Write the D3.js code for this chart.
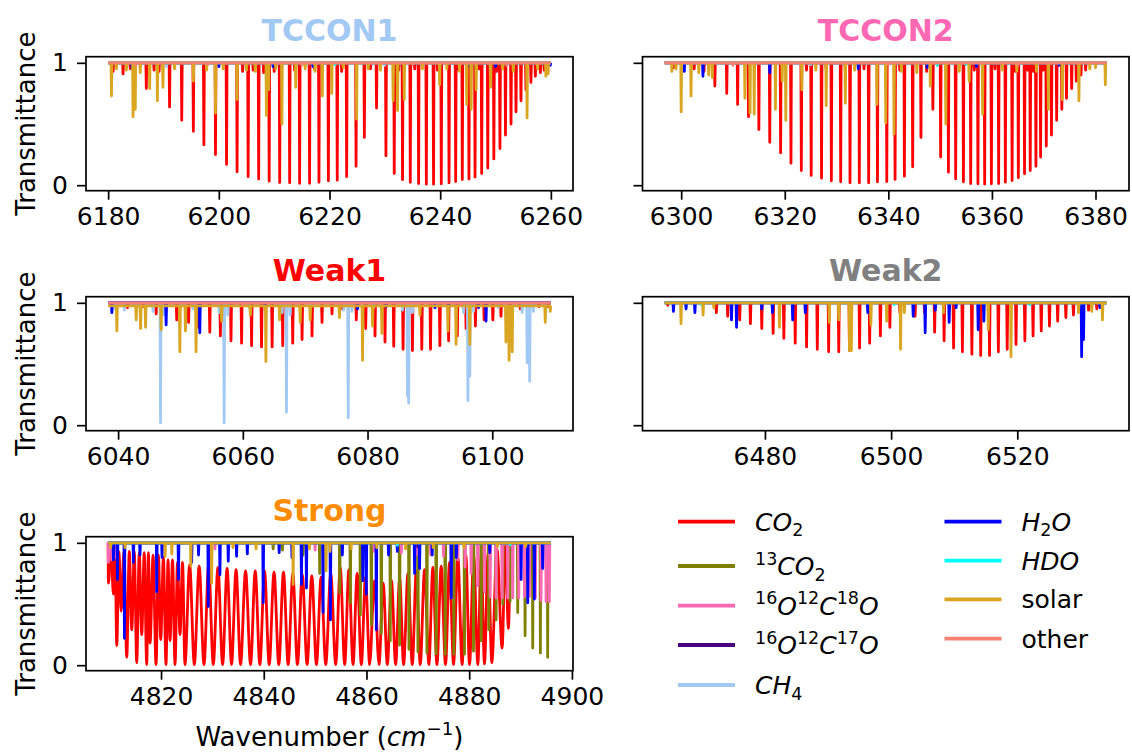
<!DOCTYPE html>
<meta charset="utf-8">
<script src="https://d3js.org/d3.v7.min.js"></script>
<style>
  body { margin: 0; background: #fff; }
  text { font-family: "DejaVu Sans", sans-serif; }
</style>
<div id="my_dataviz"></div>
<script>

// ---------- data (wavenumber cm-1, transmittance at line minimum) ----------

var panelNames = ["TCCON1", "TCCON2", "Weak1", "Weak2", "Strong"];
var panelTitleColors = ["#a1c9f4", "#ff69b4", "#ff0000", "#808080", "#ff8c00"];
var panelRanges = [[6180, 6260], [6296.8, 6382.2], [6038.4, 6109.4], [6464.1, 6534.2], [4809.7, 4895.9]];
var panelTicks = [
  [6180, 6200, 6220, 6240, 6260],
  [6300, 6320, 6340, 6360, 6380],
  [6040, 6060, 6080, 6100],
  [6480, 6500, 6520],
  [4820, 4840, 4860, 4880, 4900]
];
var yTicks = [0, 1];

var speciesNames = ["CO2", "13CO2", "O18", "O17", "CH4", "H2O", "HDO", "solar", "other"];
var speciesColors = ["#ff0000", "#808000", "#ff69b4", "#4b0082", "#a1c9f4", "#0000ff", "#00ffff", "#daa520", "#fa8072"];

// TCCON1
var tccon1_CO2 = [[6191.1,0.64],[6193.3,0.53],[6195.4,0.44],[6197.3,0.33],[6199.4,0.25],[6201.4,0.17],[6203.3,0.11],[6205.3,0.07],[6207.2,0.05],[6209.1,0.033],[6211.0,0.022],[6212.8,0.019],[6214.6,0.016],[6216.4,0.016],[6218.1,0.024],[6219.8,0.036],[6221.4,0.041],[6223.1,0.07],[6224.8,0.155],[6226.3,0.39],[6228.5,0.63],[6230.2,0.24],[6231.7,0.096],[6233.2,0.045],[6234.6,0.024],[6236.1,0.014],[6237.5,0.008],[6238.8,0.008],[6240.2,0.011],[6241.6,0.019],[6242.8,0.03],[6244.0,0.046],[6245.2,0.05],[6246.3,0.066],[6247.5,0.096],[6248.6,0.14],[6249.7,0.215],[6250.8,0.30],[6251.8,0.41],[6252.8,0.50],[6253.7,0.60],[6254.6,0.69],[6255.5,0.78],[6256.4,0.84],[6257.2,0.89],[6258.1,0.92],[6258.8,0.94],
  [6180.9,0.93],[6182.7,0.91],[6184.0,0.95],[6186.9,0.79],[6188.3,0.94],[6189.2,0.93],[6204.3,0.93],[6206.2,0.94],[6208.1,0.92],[6210.0,0.93],[6213.7,0.94],[6217.3,0.95],[6222.2,0.93],[6227.4,0.95],[6232.5,0.94],[6235.4,0.95],[6239.5,0.94],[6243.4,0.94],[6247.0,0.95],[6250.2,0.93]];
var tccon1_CH4 = [[6190.5,0.97],[6230.0,0.98]];
var tccon1_H2O = [[6184.3,0.96],[6200.0,0.97],[6209.8,0.97],[6217.0,0.97],[6245.0,0.97],[6250.0,0.97],[6259.9,0.98]];
var tccon1_HDO = [[6221.0,0.985]];
var tccon1_solar = [[6180.6,0.73],[6181.5,0.95],[6183.3,0.94],[6184.5,0.56],[6184.9,0.62],[6185.8,0.92],[6187.5,0.79],[6188.9,0.69],[6189.9,0.80],[6192.0,0.95],[6195.4,0.85],[6197.8,0.94],[6199.4,0.59],[6200.8,0.95],[6203.3,0.70],[6205.0,0.94],[6206.6,0.93],[6208.6,0.57],[6209.0,0.78],[6210.3,0.95],[6211.4,0.50],[6213.9,0.80],[6215.6,0.95],[6217.4,0.93],[6218.7,0.73],[6220.4,0.75],[6222.5,0.96],[6224.9,0.54],[6227.0,0.95],[6229.2,0.94],[6231.5,0.69],[6232.3,0.61],[6233.5,0.70],[6236.8,0.95],[6239.9,0.82],[6241.2,0.95],[6243.5,0.93],[6244.8,0.66],[6245.6,0.62],[6246.5,0.78],[6249.1,0.80],[6251.3,0.95],[6253.2,0.93],[6255.7,0.55],[6257.6,0.95],[6259.1,0.89],[6259.5,0.91]];
var tccon1_other = [[6185.0,0.98],[6198.0,0.985],[6215.0,0.98],[6235.0,0.985],[6252.0,0.98]];

// TCCON2
var tccon2_CO2 = [[6306.5,0.81],[6308.8,0.75],[6310.9,0.66],[6313.0,0.56],[6315.0,0.455],[6317.1,0.35],[6319.2,0.265],[6321.2,0.18],[6323.2,0.12],[6325.1,0.08],[6327.1,0.057],[6329.0,0.036],[6330.8,0.028],[6332.6,0.019],[6334.4,0.019],[6336.2,0.019],[6337.9,0.028],[6339.7,0.03],[6341.3,0.047],[6343.1,0.074],[6344.7,0.15],[6346.3,0.39],[6348.6,0.62],[6350.1,0.23],[6351.6,0.106],[6353.0,0.052],[6354.5,0.028],[6355.9,0.014],[6357.3,0.011],[6358.6,0.008],[6359.9,0.011],[6361.3,0.014],[6362.6,0.025],[6363.9,0.038],[6365.1,0.06],[6366.3,0.093],[6367.4,0.12],[6368.5,0.155],[6369.4,0.23],[6370.5,0.32],[6371.5,0.41],[6372.5,0.53],[6373.5,0.62],[6374.4,0.71],[6375.4,0.79],[6376.3,0.85],[6377.2,0.90],[6378.1,0.94],
  [6298.5,0.96],[6302.5,0.95],[6304.4,0.93],[6324.2,0.94],[6328.0,0.95],[6331.7,0.93],[6335.3,0.95],[6342.2,0.94],[6347.4,0.93],[6356.6,0.94],[6360.6,0.95],[6364.5,0.93],[6366.9,0.94],[6368.0,0.93],[6369.9,0.94]];
var tccon2_CH4 = [[6325.0,0.985]];
var tccon2_H2O = [[6300.6,0.93],[6304.2,0.89],[6317.1,0.92],[6334.2,0.95],[6347.5,0.96],[6357.0,0.97],[6373.0,0.98]];
var tccon2_HDO = [[6349.5,0.98],[6355.0,0.985]];
var tccon2_solar = [[6298.2,0.93],[6299.0,0.95],[6300.0,0.60],[6301.9,0.73],[6303.4,0.92],[6305.3,0.90],[6306.0,0.88],[6312.3,0.71],[6313.3,0.59],[6314.1,0.58],[6318.2,0.62],[6319.5,0.85],[6320.2,0.53],[6323.3,0.78],[6326.0,0.94],[6328.0,0.65],[6331.7,0.67],[6333.5,0.94],[6337.8,0.66],[6339.5,0.51],[6341.1,0.42],[6342.5,0.93],[6345.5,0.92],[6348.1,0.81],[6351.1,0.50],[6353.7,0.93],[6355.6,0.85],[6358.2,0.58],[6362.0,0.94],[6364.8,0.93],[6368.6,0.93],[6370.9,0.62],[6373.6,0.70],[6376.8,0.69],[6378.9,0.95],[6380.0,0.96],[6381.9,0.82]];
var tccon2_other = [[6310.0,0.98],[6340.0,0.985],[6365.0,0.98]];

// Weak1
var weak1_CO2 = [[6041.5,0.96],[6044.0,0.97],[6046.1,0.91],[6049.4,0.86],[6051.3,0.84],[6052.9,0.80],[6054.7,0.76],[6056.4,0.73],[6058.1,0.69],[6059.8,0.67],[6061.4,0.65],[6063.0,0.64],[6064.7,0.64],[6066.4,0.65],[6068.0,0.67],[6069.5,0.70],[6071.1,0.73],[6072.7,0.84],[6074.3,0.91],[6076.0,0.95],[6078.2,0.86],[6079.7,0.79],[6081.2,0.73],[6082.8,0.68],[6084.2,0.645],[6085.7,0.62],[6087.2,0.61],[6088.7,0.62],[6090.1,0.62],[6091.6,0.65],[6093.0,0.69],[6094.4,0.73],[6095.8,0.79],[6097.3,0.81],[6098.7,0.86],[6100.1,0.86],[6101.4,0.89],[6102.8,0.93],[6104.5,0.95],[6107.5,0.97],[6109.0,0.97]];
var weak1_CH4 = [[6046.8,0.02],[6057.0,0.02],[6067.0,0.106],[6076.9,0.06],[6086.4,0.24],[6086.6,0.18],[6096.1,0.20],[6096.4,0.40],[6105.6,0.51],[6106.0,0.36],
  [6039.5,0.95],[6041.0,0.94],[6043.0,0.96],[6045.6,0.93],[6047.3,0.90],[6050.0,0.96],[6052.0,0.95],[6056.2,0.92],[6057.6,0.90],[6061.0,0.96],[6066.3,0.92],[6067.6,0.90],[6071.0,0.97],[6076.2,0.94],[6077.5,0.93],[6081.0,0.96],[6085.6,0.94],[6087.2,0.92],[6091.0,0.96],[6095.4,0.92],[6097.0,0.93],[6101.0,0.96],[6104.8,0.92],[6106.6,0.93]];
var weak1_H2O = [[6039.0,0.92],[6047.7,0.82],[6053.1,0.755],[6063.6,0.97],[6078.4,0.95],[6083.0,0.97],[6090.8,0.96],[6093.0,0.96],[6097.8,0.96],[6099.0,0.85]];
var weak1_solar = [[6039.8,0.77],[6042.9,0.86],[6043.6,0.79],[6044.4,0.80],[6046.9,0.78],[6049.9,0.60],[6050.8,0.77],[6052.5,0.60],[6056.6,0.85],[6061.2,0.90],[6063.7,0.52],[6065.9,0.86],[6069.2,0.84],[6070.8,0.86],[6075.5,0.88],[6079.2,0.53],[6080.8,0.81],[6082.3,0.75],[6088.4,0.90],[6092.9,0.77],[6094.2,0.66],[6096.4,0.66],[6102.2,0.68],[6102.7,0.53],[6103.2,0.60],[6108.5,0.84],[6109.3,0.93]];
var weak1_solarLevel = 0.975;
var weak1_other = [[6060.0,0.985],[6095.0,0.985]];

// Weak2
var weak2_CO2 = [[6464.6,0.98],[6472.3,0.92],[6474.1,0.89],[6476.0,0.86],[6477.7,0.83],[6479.5,0.79],[6481.3,0.75],[6483.0,0.71],[6484.8,0.67],[6486.6,0.64],[6488.3,0.62],[6490.1,0.60],[6491.7,0.60],[6493.4,0.61],[6495.0,0.63],[6496.6,0.67],[6498.3,0.73],[6499.8,0.80],[6501.4,0.92],[6503.8,0.89],[6505.3,0.92],[6506.9,0.76],[6508.4,0.69],[6509.9,0.63],[6511.3,0.60],[6512.8,0.58],[6514.2,0.57],[6515.6,0.57],[6517.0,0.60],[6518.4,0.62],[6519.8,0.66],[6521.2,0.69],[6522.5,0.73],[6523.8,0.77],[6525.1,0.81],[6526.4,0.85],[6527.7,0.88],[6528.9,0.90],[6531.3,0.94],[6532.6,0.95]];
var weak2_H2O = [[6465.5,0.93],[6467.5,0.95],[6468.9,0.92],[6474.7,0.86],[6475.5,0.80],[6479.5,0.95],[6481.2,0.92],[6484.4,0.86],[6486.4,0.92],[6496.3,0.92],[6503.5,0.89],[6505.4,0.755],[6507.0,0.94],[6509.2,0.84],[6510.3,0.96],[6513.8,0.78],[6514.7,0.85],[6530.2,0.56],[6530.5,0.70],[6533.1,0.96]];
var weak2_HDO = [[6470.0,0.98],[6500.5,0.985],[6522.0,0.985]];
var weak2_solar = [[6466.7,0.83],[6470.2,0.90],[6471.9,0.96],[6482.3,0.80],[6490.2,0.84],[6491.7,0.86],[6493.4,0.61],[6493.7,0.61],[6496.8,0.82],[6499.3,0.85],[6501.5,0.62],[6502.1,0.92],[6508.3,0.92],[6515.4,0.78],[6519.0,0.56],[6529.7,0.92],[6531.8,0.93],[6533.5,0.86]];

// Strong: CO2 is dense enough that the lines never recover, so it is read as
// alternating minima / arch tops
var strong_CO2 = [[4809.7,1],[4809.76,0.67],[4810.25,0.95],[4810.73,0.58],[4811.06,0.92],[4811.38,0.16],[4811.81,0.93],[4812.23,0.44],[4812.78,0.93],[4813.33,0.065],[4813.82,0.93],[4814.30,0.29],[4814.79,0.93],[4815.27,0.02],[4815.76,0.92],[4816.24,0.25],[4816.73,0.92],[4817.21,0.005],[4817.54,0.92],[4817.86,0.18],[4818.45,0.90],[4819.03,0.005],[4819.49,0.90],[4819.94,0.21],[4820.46,0.88],[4820.97,0.005],[4821.36,0.86],[4821.75,0.20],[4822.24,0.86],[4822.72,0.005],[4823.21,0.84],[4823.69,0.25],[4824.18,0.84],[4824.66,0.005],[4825.57,0.82],[4826.48,0.005],[4827.42,0.81],[4828.36,0.005],[4829.27,0.82],[4830.17,0.005],[4831.08,0.80],[4831.99,0.005],[4832.86,0.79],[4833.73,0.005],[4834.61,0.78],[4835.48,0.005],[4836.46,0.77],[4837.43,0.005],[4838.34,0.77],[4839.24,0.005],[4840.15,0.77],[4841.06,0.005],[4842.00,0.76],[4842.93,0.005],[4843.84,0.76],[4844.75,0.005],[4845.66,0.75],[4846.56,0.005],[4847.50,0.74],[4848.44,0.005],[4849.35,0.73],[4850.26,0.005],[4851.17,0.72],[4852.07,0.005],[4853.04,0.75],[4854.01,0.005],[4854.89,0.80],[4855.76,0.005],[4856.57,0.78],[4857.38,0.005],[4858.19,0.75],[4859.00,0.005],[4859.81,0.72],[4860.62,0.005],[4861.53,0.69],[4862.44,0.005],[4863.25,0.67],[4864.06,0.005],[4864.87,0.69],[4865.68,0.005],[4866.46,0.71],[4867.23,0.005],[4868.08,0.75],[4868.92,0.005],[4869.70,0.77],[4870.47,0.005],[4871.31,0.78],[4872.15,0.005],[4872.93,0.80],[4873.71,0.005],[4874.55,0.81],[4875.39,0.005],[4876.17,0.84],[4876.95,0.005],[4877.79,0.88],[4878.63,0.005],[4879.35,0.90],[4880.06,0.005],[4880.87,0.90],[4881.68,0.005],[4882.33,0.90],[4882.97,0.01],[4883.69,0.92],[4884.40,0.02],[4885.41,0.95],[4886.41,0.14],[4887.03,0.97],[4887.64,0.30],[4888.1,1],[4895.9,1]];
var strong_13CO2 = [[4841.83,0.95],[4843.65,0.94],[4847.66,0.90],[4850.90,0.75],[4854.79,0.59],[4856.86,0.51],[4858.81,0.41],[4860.95,0.33],[4862.89,0.26],[4864.64,0.20],[4866.45,0.165],[4868.27,0.13],[4870.02,0.11],[4871.77,0.10],[4873.58,0.093],[4875.33,0.09],[4877.01,0.09],[4879.09,0.09],[4880.84,0.115],[4882.33,0.20],[4883.82,0.29],[4885.24,0.37],[4886.54,0.50],[4887.96,0.52],[4889.45,0.43],[4890.88,0.24],[4892.37,0.14],[4893.86,0.10],[4895.28,0.065]];
var strong_O18 = [[4809.76,0.84],[4810.4,0.86],[4811.1,0.88],[4830.5,0.95],[4850.0,0.94],[4861.5,0.93],[4866.8,0.92],[4869.7,0.90],[4872.5,0.90],[4875.0,0.89],[4877.8,0.86],[4879.2,0.80],[4880.38,0.75],[4881.68,0.65],[4882.97,0.60],[4884.08,0.56],[4885.24,0.55],[4886.41,0.55],[4887.51,0.55],[4888.48,0.55],[4889.65,0.55],[4890.75,0.56],[4891.72,0.56],[4892.89,0.55],[4893.99,0.53],[4894.96,0.52],[4895.61,0.52]];
var strong_O17 = [[4870.0,0.97]];
var strong_H2O = [[4810.73,0.86],[4811.51,0.70],[4812.87,0.22],[4814.62,0.84],[4815.9,0.90],[4819.16,0.60],[4820.2,0.88],[4823.4,0.70],[4825.96,0.84],[4827.3,0.90],[4829.2,0.48],[4831.47,0.74],[4833.09,0.85],[4834.71,0.89],[4836.8,0.91],[4839.89,0.51],[4843.0,0.92],[4845.5,0.88],[4847.34,0.66],[4848.31,0.63],[4851.55,0.43],[4852.98,0.37],[4855.3,0.90],[4859.3,0.69],[4859.97,0.58],[4861.92,0.29],[4864.3,0.90],[4866.0,0.93],[4869.37,0.75],[4870.34,0.79],[4872.8,0.90],[4876.5,0.55],[4877.5,0.88],[4884.0,0.92],[4890.1,0.70],[4891.4,0.51],[4892.69,0.54],[4894.31,0.79]];
var strong_HDO = [[4866.0,0.98],[4888.0,0.985]];
var strong_solar = [[4810.2,0.96],[4813.0,0.96],[4820.8,0.89],[4822.1,0.91],[4825.8,0.81],[4829.85,0.67],[4834.0,0.96],[4838.5,0.95],[4845.72,0.66],[4848.9,0.95],[4852.13,0.77],[4852.9,0.93],[4857.0,0.95],[4862.0,0.96],[4867.6,0.95],[4873.0,0.96],[4879.0,0.96],[4885.5,0.97],[4891.0,0.97]];

// which list goes with which species in every panel
var panelSeries = [
  {CO2: tccon1_CO2, CH4: tccon1_CH4, H2O: tccon1_H2O, HDO: tccon1_HDO, solar: tccon1_solar, other: tccon1_other},
  {CO2: tccon2_CO2, CH4: tccon2_CH4, H2O: tccon2_H2O, HDO: tccon2_HDO, solar: tccon2_solar, other: tccon2_other},
  {CO2: weak1_CO2, CH4: weak1_CH4, H2O: weak1_H2O, solar: weak1_solar, other: weak1_other},
  {CO2: weak2_CO2, H2O: weak2_H2O, HDO: weak2_HDO, solar: weak2_solar},
  {CO2: strong_CO2, "13CO2": strong_13CO2, O18: strong_O18, O17: strong_O17, H2O: strong_H2O, HDO: strong_HDO, solar: strong_solar}
];

// ---------- layout ----------
var W = 1132, H = 753;
var boxes = [
  {x: 86, y: 56.7, w: 487, h: 134},
  {x: 642.5, y: 56.7, w: 486.5, h: 134},
  {x: 86, y: 296.7, w: 487, h: 134},
  {x: 642.5, y: 296.7, w: 486.5, h: 134},
  {x: 86, y: 536.7, w: 487, h: 134}
];
var fontSize = 25;
var lineW = 2.8;
var halfWidth = 0.08; // drawn half-width of a single line, cm-1

var svg = d3.select("#my_dataviz")
  .append("svg")
    .attr("width", W)
    .attr("height", H);

function spikePoints(lines, range, base) {
  var pts = [[range[0], base]];
  lines.slice().sort(function(a, b) { return a[0] - b[0]; }).forEach(function(l) {
    pts.push([l[0] - halfWidth, base], [l[0], l[1]], [l[0] + halfWidth, base]);
  });
  pts.push([range[1], base]);
  return pts;
}

panelNames.forEach(function(name, i) {
  var b = boxes[i];
  var r = panelRanges[i];
  var pad = (r[1] - r[0]) * 0.05;

  var x = d3.scaleLinear().domain([r[0] - pad, r[1] + pad]).range([0, b.w]);
  var y = d3.scaleLinear().domain([-0.045, 1.05]).range([b.h, 0]);

  var g = svg.append("g").attr("transform", "translate(" + b.x + "," + b.y + ")");

  g.append("clipPath").attr("id", "clip" + i)
    .append("rect").attr("width", b.w).attr("height", b.h);

  var plot = g.append("g").attr("clip-path", "url(#clip" + i + ")");

  var line = d3.line().x(function(d) { return x(d[0]); }).y(function(d) { return y(d[1]); });
  var smooth = d3.line().curve(d3.curveMonotoneX)
    .x(function(d) { return x(d[0]); }).y(function(d) { return y(d[1]); });

  speciesNames.forEach(function(sp, k) {
    var data = panelSeries[i][sp];
    if (!data) return;
    var path;
    if (i === 4 && sp === "CO2") {
      path = smooth(data);
    } else {
      var base = (i === 2 && sp === "solar") ? weak1_solarLevel : 1;
      path = line(spikePoints(data, r, base));
    }
    plot.append("path")
      .attr("d", path)
      .attr("fill", "none")
      .attr("stroke", speciesColors[k])
      .attr("stroke-width", lineW)
      .attr("stroke-linejoin", "round");
  });

  // axes
  var xAxis = g.append("g")
    .attr("transform", "translate(0," + b.h + ")")
    .call(d3.axisBottom(x).tickValues(panelTicks[i]).tickSize(9).tickPadding(8).tickFormat(d3.format("d")));
  var yAxis = g.append("g")
    .call(d3.axisLeft(y).tickValues(yTicks).tickSize(9).tickPadding(9)
      .tickFormat(i % 2 === 0 ? d3.format("d") : function() { return ""; }));

  [xAxis, yAxis].forEach(function(a) {
    a.select(".domain").remove();
    a.selectAll(".tick line").attr("stroke", "#000").attr("stroke-width", 1.7);
    a.selectAll(".tick text").attr("fill", "#000")
      .style("font-size", fontSize + "px").style("font-family", "DejaVu Sans");
  });

  g.append("rect")
    .attr("width", b.w).attr("height", b.h)
    .attr("fill", "none").attr("stroke", "#000").attr("stroke-width", 1.7);

  // title
  g.append("text")
    .attr("x", b.w / 2).attr("y", -15.5)
    .attr("text-anchor", "middle")
    .style("font-size", "30px").style("font-weight", "bold")
    .attr("fill", panelTitleColors[i])
    .text(name);

  if (i % 2 === 0) {
    g.append("text")
      .attr("transform", "translate(" + (35 - b.x) + "," + (b.h / 2) + ") rotate(-90)")
      .attr("text-anchor", "middle")
      .style("font-size", "26px")
      .text("Transmittance");
  }
});

// x label under the Strong panel
function richText(sel, parts, size) {
  var shift = 0;
  parts.forEach(function(p) {
    var t = sel.append("tspan").text(p[0]);
    var target = 0;
    if (p[1] === "sub") target = 0.22 * size;
    if (p[1] === "sup") target = -0.42 * size;
    t.attr("dy", target - shift);
    shift = target;
    if (p[1] === "sub" || p[1] === "sup") t.style("font-size", (0.7 * size) + "px");
    if (p[1] === "i") t.style("font-style", "italic");
  });
}

var xl = svg.append("text")
  .attr("x", boxes[4].x + boxes[4].w / 2).attr("y", 746)
  .attr("text-anchor", "middle")
  .style("font-size", "26px");
richText(xl, [["Wavenumber (", "n"], ["cm", "i"], ["\u22121", "sup"], [")", "n"]], 26);

// legend
var legendLabels = [
  [["C", "i"], ["O", "i"], ["2", "sub"]],
  [["13", "sup"], ["CO", "i"], ["2", "sub"]],
  [["16", "sup"], ["O", "i"], ["12", "sup"], ["C", "i"], ["18", "sup"], ["O", "i"]],
  [["16", "sup"], ["O", "i"], ["12", "sup"], ["C", "i"], ["17", "sup"], ["O", "i"]],
  [["CH", "i"], ["4", "sub"]],
  [["H", "i"], ["2", "sub"], ["O", "i"]],
  [["HDO", "i"]],
  [["solar", "n"]],
  [["other", "n"]]
];
var legendPos = [
  [678, 521.7], [678, 566], [678, 605.7], [678, 645], [678, 685],
  [944.5, 521.7], [944.5, 560.7], [944.5, 599.3], [944.5, 638.7]
];

legendLabels.forEach(function(lab, k) {
  var p = legendPos[k];
  svg.append("line")
    .attr("x1", p[0]).attr("x2", p[0] + 57)
    .attr("y1", p[1]).attr("y2", p[1])
    .attr("stroke", speciesColors[k]).attr("stroke-width", 3.8);
  var t = svg.append("text")
    .attr("x", p[0] + 77).attr("y", p[1] + 9)
    .style("font-size", fontSize + "px");
  richText(t, lab, fontSize);
});

</script>
